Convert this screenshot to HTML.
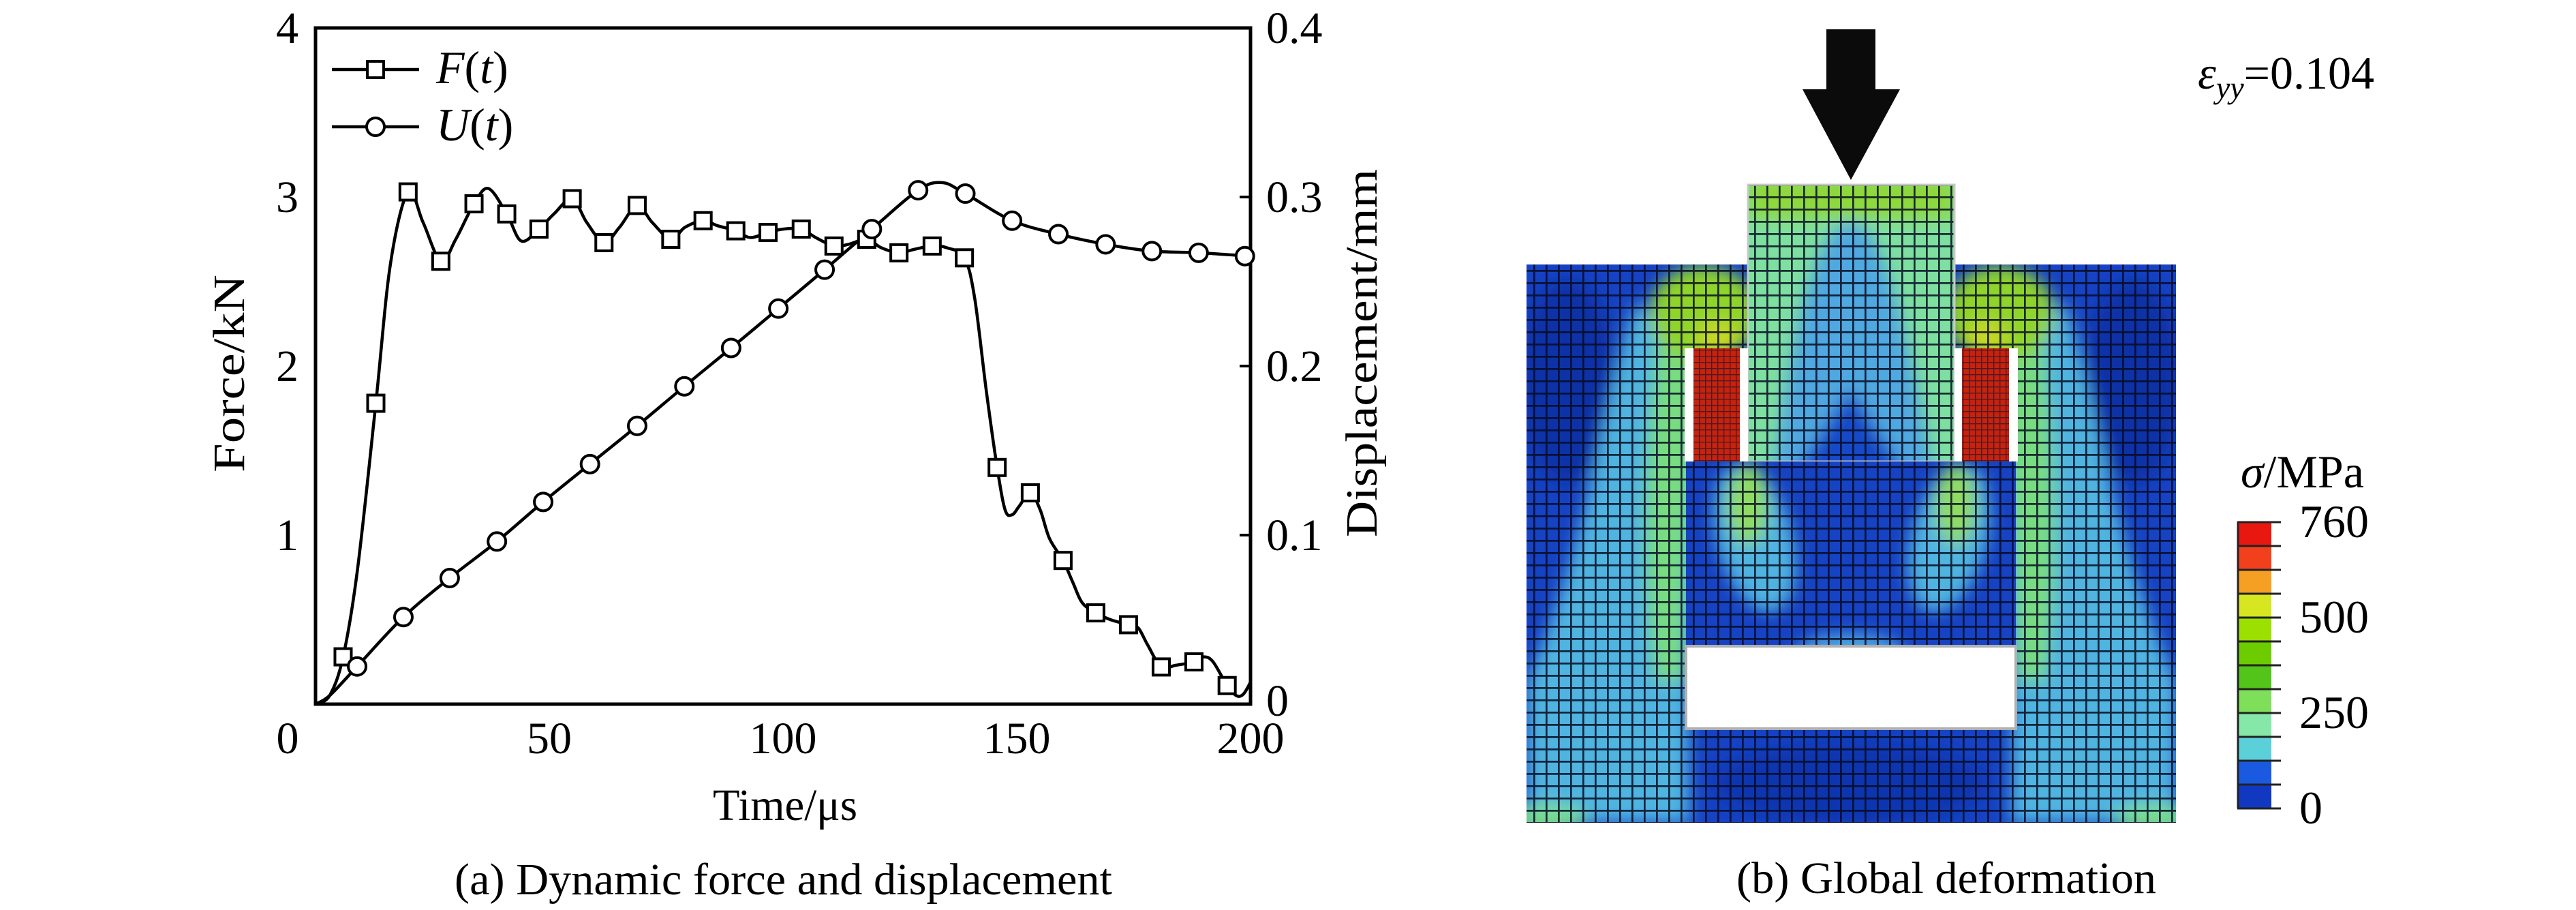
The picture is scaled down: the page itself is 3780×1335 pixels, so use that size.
<!DOCTYPE html>
<html><head><meta charset="utf-8"><style>
html,body{margin:0;padding:0;background:#fff;}
svg{display:block;}
text{font-family:"Liberation Serif",serif;fill:#000;}
</style></head><body>
<svg id="root" width="3780" height="1335" viewBox="0 0 3780 1335" xmlns="http://www.w3.org/2000/svg">
<defs>
  <pattern id="mesh" width="18" height="18" patternUnits="userSpaceOnUse">
    <path d="M0 1H18M1 0V18" stroke="#050a20" stroke-width="3.4" opacity="0.85"/>
  </pattern>
  <pattern id="meshfine" width="9" height="9" patternUnits="userSpaceOnUse">
    <path d="M0 0.5H9M0.5 0V9" stroke="#0a1430" stroke-width="1.8" opacity="0.65"/>
  </pattern>
  <filter id="blur" x="-20%" y="-20%" width="140%" height="140%"><feGaussianBlur stdDeviation="12"/></filter>
  <clipPath id="outerClip"><rect x="2240" y="388" width="953" height="819"/></clipPath>
  <clipPath id="blockClip"><rect x="2566" y="271" width="301" height="406"/></clipPath>
  <clipPath id="innerClip"><rect x="2474" y="677" width="484" height="271"/></clipPath>
</defs>

<!-- ============ LEFT CHART ============ -->
<g id="chart"></g>
<text x="1152" y="1203" font-size="66" text-anchor="middle" textLength="212" lengthAdjust="spacingAndGlyphs">Time/μs</text>
<text transform="translate(358,548) rotate(-90)" font-size="66" text-anchor="middle" textLength="290" lengthAdjust="spacingAndGlyphs">Force/kN</text>
<text transform="translate(2020,518) rotate(-90)" font-size="66" text-anchor="middle" textLength="540" lengthAdjust="spacingAndGlyphs">Displacement/mm</text>
<text x="667" y="1312" font-size="66" textLength="965" lengthAdjust="spacingAndGlyphs">(a) Dynamic force and displacement</text>

<!-- legend -->
<g>
  <g>
    <line x1="487" y1="102" x2="615" y2="102" stroke="#000" stroke-width="4.5"/>
    <rect x="539" y="90" width="24" height="24" fill="#fff" stroke="#000" stroke-width="4"/>
    <text x="640" y="122" font-size="68" font-style="italic">F<tspan font-style="normal">(</tspan>t<tspan font-style="normal">)</tspan></text>
  </g>
  <g>
    <line x1="487" y1="186" x2="615" y2="186" stroke="#000" stroke-width="4.5"/>
    <circle cx="551" cy="186" r="13" fill="#fff" stroke="#000" stroke-width="4"/>
    <text x="640" y="206" font-size="68" font-style="italic">U<tspan font-style="normal">(</tspan>t<tspan font-style="normal">)</tspan></text>
  </g>
</g>

<!-- ============ RIGHT PANEL (FE contour) ============ -->
<g>
  <polygon points="2680,43 2752,43 2752,131 2788,131 2716,264 2645,131 2680,131" fill="#0b0b0b"/>

  <g clip-path="url(#outerClip)">
    <rect x="2240" y="388" width="953" height="819" fill="#1642c4"/>
    <g filter="url(#blur)">
      <ellipse cx="2300" cy="560" rx="70" ry="150" fill="#0f30a8"/>
      <ellipse cx="3130" cy="560" rx="70" ry="150" fill="#0f30a8"/>
      <path d="M2400,440 C2350,600 2330,800 2240,1000 L2240,1207 L2480,1207 C2470,1000 2500,800 2520,600 Z" fill="#50b4e0"/>
      <path d="M2440,430 C2420,600 2400,800 2430,1000 L2470,1000 C2470,800 2490,600 2500,440 Z" fill="#78dc80"/>
      <path d="M3030,440 C3080,600 3100,800 3193,1000 L3193,1207 L2950,1207 C2960,1000 2930,800 2910,600 Z" fill="#50b4e0"/>
      <path d="M2990,430 C3010,600 3030,800 3000,1000 L2960,1000 C2960,800 2940,600 2930,440 Z" fill="#78dc80"/>
      <ellipse cx="2500" cy="460" rx="80" ry="70" fill="#8fd42a"/>
      <ellipse cx="2935" cy="460" rx="80" ry="70" fill="#8fd42a"/>
      <ellipse cx="2520" cy="495" rx="30" ry="25" fill="#c8d820"/>
      <ellipse cx="2915" cy="495" rx="30" ry="25" fill="#c8d820"/>
      <ellipse cx="2715" cy="1150" rx="200" ry="60" fill="#1034b0"/>
      <ellipse cx="2270" cy="1200" rx="60" ry="20" fill="#7ce08a"/>
      <ellipse cx="3160" cy="1200" rx="60" ry="20" fill="#7ce08a"/>
    </g>
    <rect x="2240" y="388" width="953" height="819" fill="url(#mesh)"/>
  </g>

  <g clip-path="url(#blockClip)">
    <rect x="2566" y="271" width="301" height="406" fill="#7ee0a0"/>
    <g filter="url(#blur)">
      <rect x="2566" y="260" width="301" height="60" fill="#8ed83a"/>
      <path d="M2600,700 C2630,500 2650,380 2700,330 C2760,300 2790,450 2840,700 Z" fill="#4fa8e0"/>
      <path d="M2630,700 L2715,570 L2800,700 Z" fill="#1848c8"/>
    </g>
    <rect x="2566" y="271" width="301" height="406" fill="url(#mesh)"/>
  </g>
  <rect x="2565" y="271" width="303" height="406" fill="none" stroke="#c8c8c8" stroke-width="3"/>

  <rect x="2472" y="511" width="13" height="166" fill="#fff"/>
  <rect x="2553" y="511" width="12" height="166" fill="#fff"/>
  <rect x="2868" y="511" width="11" height="166" fill="#fff"/>
  <rect x="2948" y="511" width="13" height="166" fill="#fff"/>
  <rect x="2485" y="511" width="68" height="166" fill="#c8220c"/>
  <rect x="2485" y="511" width="68" height="166" fill="url(#meshfine)"/>
  <rect x="2879" y="511" width="69" height="166" fill="#c8220c"/>
  <rect x="2879" y="511" width="69" height="166" fill="url(#meshfine)"/>

  <g clip-path="url(#innerClip)">
    <rect x="2474" y="677" width="484" height="271" fill="#1642c4"/>
    <g filter="url(#blur)">
      <ellipse cx="2575" cy="790" rx="55" ry="110" fill="#50b4e0" transform="rotate(-15 2575 790)"/>
      <ellipse cx="2565" cy="740" rx="30" ry="60" fill="#8fdc60"/>
      <ellipse cx="2860" cy="790" rx="55" ry="110" fill="#50b4e0" transform="rotate(15 2860 790)"/>
      <ellipse cx="2870" cy="740" rx="30" ry="60" fill="#8fdc60"/>
      <ellipse cx="2715" cy="960" rx="80" ry="30" fill="#4fa8e0"/>
    </g>
    <rect x="2474" y="677" width="484" height="271" fill="url(#mesh)"/>
  </g>

  <rect x="2474" y="948" width="484" height="121" fill="#fff" stroke="#b0b0b0" stroke-width="4"/>
</g>

<text x="3225" y="130" font-size="68"><tspan font-style="italic">ε</tspan><tspan font-style="italic" font-size="46" dy="14">yy</tspan><tspan dy="-14">=0.104</tspan></text>

<g id="cbar"></g>
<text x="3288" y="715" font-size="68"><tspan font-style="italic">σ</tspan>/MPa</text>

<text x="2548" y="1310" font-size="66" textLength="616" lengthAdjust="spacingAndGlyphs">(b) Global deformation</text>

<script>
const xTicks = [0, 50, 100, 150, 200];
const yTicksLeft = [1, 2, 3, 4];
const yTicksRight = [0, 0.1, 0.2, 0.3, 0.4];
const forceLineT = [0,3,5.9,9,12.9,16,19.8,23,26.8,30,33.9,37,40.9,44,47.8,51,54.9,58,61.7,65,68.8,72,76,79,82.9,86,89.9,93,96.8,100,103.9,107,110.9,114,117.9,121,124.8,128,131.9,135,138.8,141,143.5,145.8,147.5,149,150.5,152.9,155,157,159.9,162,164,166.9,170,173.9,176,178,180.9,184,187.9,190,192,195,197,198.5,200];
const forceLineF = [0,0.05,0.28,0.8,1.78,2.6,3.03,2.85,2.62,2.75,2.96,3.05,2.90,2.74,2.81,2.9,2.99,2.85,2.73,2.82,2.95,2.85,2.75,2.82,2.86,2.83,2.80,2.76,2.79,2.81,2.81,2.76,2.71,2.72,2.75,2.70,2.67,2.69,2.71,2.70,2.64,2.4,1.85,1.40,1.15,1.12,1.17,1.25,1.15,0.98,0.85,0.72,0.6,0.54,0.50,0.47,0.45,0.35,0.22,0.23,0.25,0.28,0.25,0.11,0.05,0.06,0.13];
const forceMarkT = [5.9,12.9,19.8,26.8,33.9,40.9,47.8,54.9,61.7,68.8,76.0,82.9,89.9,96.8,103.9,110.9,117.9,124.8,131.9,138.8,145.8,152.9,159.9,166.9,173.9,180.9,187.9,195.0];
const forceMarkF = [0.28,1.78,3.03,2.62,2.96,2.90,2.81,2.99,2.73,2.95,2.75,2.86,2.80,2.79,2.81,2.71,2.75,2.67,2.71,2.64,1.40,1.25,0.85,0.54,0.47,0.22,0.25,0.11];
const dispLineT = [0,3,8.9,18.8,28.7,38.8,48.7,58.7,68.8,78.9,88.9,99.0,108.9,119.0,128.9,134,139.0,149.0,158.9,169.0,178.9,188.9,200];
const dispLineU = [0,0.005,0.0223,0.0515,0.0746,0.0962,0.1196,0.142,0.1646,0.188,0.2107,0.234,0.257,0.281,0.304,0.3085,0.302,0.286,0.278,0.272,0.268,0.267,0.265];
const dispMarkT = [8.9,18.8,28.7,38.8,48.7,58.7,68.8,78.9,88.9,99.0,108.9,119.0,128.9,139.0,149.0,158.9,169.0,178.9,188.9,198.8];
const dispMarkU = [0.0223,0.0515,0.0746,0.0962,0.1196,0.142,0.1646,0.188,0.2107,0.234,0.257,0.281,0.304,0.302,0.286,0.278,0.272,0.268,0.267,0.265];
const cbarColors = ["#e8170f","#f2401c","#f5a023","#d6e620","#9be000","#6ccc00","#52c41a","#7ee05a","#86e8a8","#5cd0d8","#1a5ae0","#1038c0"];
const cbarLabels = ["760","500","250","0"];
const cbarLabelPos = [0, 4, 8, 12];

const NS = "http://www.w3.org/2000/svg";
const X0 = 463, X1 = 1835, Y0 = 1033, Y1 = 41;
const sx = t => X0 + (t / 200) * (X1 - X0);
const sF = f => Y0 - (f / 4) * (Y0 - Y1);
const sU = u => Y0 - (u / 0.4) * (Y0 - Y1);
function mk(tag, attrs, parent) { const e = document.createElementNS(NS, tag); for (const k in attrs) e.setAttribute(k, attrs[k]); parent.appendChild(e); return e; }
function smoothPath(pts) {
  let d = "M" + pts[0][0].toFixed(1) + "," + pts[0][1].toFixed(1);
  for (let i = 0; i < pts.length - 1; i++) {
    const p0 = pts[Math.max(0, i - 1)], p1 = pts[i], p2 = pts[i + 1], p3 = pts[Math.min(pts.length - 1, i + 2)];
    const c1x = p1[0] + (p2[0] - p0[0]) / 6, c1y = p1[1] + (p2[1] - p0[1]) / 6;
    const c2x = p2[0] - (p3[0] - p1[0]) / 6, c2y = p2[1] - (p3[1] - p1[1]) / 6;
    d += " C" + c1x.toFixed(1) + "," + c1y.toFixed(1) + " " + c2x.toFixed(1) + "," + c2y.toFixed(1) + " " + p2[0].toFixed(1) + "," + p2[1].toFixed(1);
  }
  return d;
}
const g = document.getElementById("chart");
const box = mk("rect", {x: X0, y: Y1, width: X1 - X0, height: Y0 - Y1, fill: "none", stroke: "#000", "stroke-width": 5}, g);


xTicks.forEach(v => {
  const tx = mk("text", {x: v === 0 ? sx(v) - 41 : sx(v), y: 1105, "font-size": 66, "text-anchor": "middle"}, g);
  tx.textContent = v;
  
  
});
yTicksLeft.forEach(v => {
  const tx = mk("text", {x: 438, y: sF(v) + 22, "font-size": 66, "text-anchor": "end"}, g);
  tx.textContent = v;
  
  
});
yTicksRight.forEach(v => {
  const tx = mk("text", {x: 1858, y: sU(v) + (v === 0 ? 17 : 22), "font-size": 66}, g);
  tx.textContent = v;
  
  
  if (v > 0 && v < 0.4) {
    const tk = mk("line", {x1: X1, x2: X1 - 16, y1: sU(v), y2: sU(v), stroke: "#000", "stroke-width": 4}, g);
    
    
  }
});
const fPts = forceLineT.map((t, i) => [sx(t), sF(forceLineF[i])]);
const fl = mk("path", {d: smoothPath(fPts), fill: "none", stroke: "#000", "stroke-width": 4.5}, g);


const uPts = dispLineT.map((t, i) => [sx(t), sU(dispLineU[i])]);
const ul = mk("path", {d: smoothPath(uPts), fill: "none", stroke: "#000", "stroke-width": 4.5}, g);


forceMarkT.forEach((t, i) => {
  const r = mk("rect", {x: sx(t) - 12, y: sF(forceMarkF[i]) - 12, width: 24, height: 24, fill: "#fff", stroke: "#000", "stroke-width": 4}, g);
  
  
});
dispMarkT.forEach((t, i) => {
  const c = mk("circle", {cx: sx(t), cy: sU(dispMarkU[i]), r: 13, fill: "#fff", stroke: "#000", "stroke-width": 4}, g);
  
  
});
const cb = document.getElementById("cbar");
const CB_X = 3283, CB_W = 50, CB_Y0 = 766, CB_Y1 = 1186;
const bh = (CB_Y1 - CB_Y0) / cbarColors.length;
cbarColors.forEach((c, i) => {
  const r = mk("rect", {x: CB_X, y: CB_Y0 + i * bh, width: CB_W, height: bh + 0.5, fill: c}, cb);
  
  
});
for (let i = 0; i <= cbarColors.length; i++) {
  mk("line", {x1: CB_X, x2: CB_X + CB_W + 14, y1: CB_Y0 + i * bh, y2: CB_Y0 + i * bh, stroke: "#222", "stroke-width": 3}, cb);
}
mk("line", {x1: CB_X + 1, x2: CB_X + 1, y1: CB_Y0, y2: CB_Y1, stroke: "#222", "stroke-width": 3}, cb);
cbarLabels.forEach((l, i) => {
  const t = mk("text", {x: 3374, y: CB_Y0 + cbarLabelPos[i] * bh + 22, "font-size": 68}, cb);
  t.textContent = l;
  
  
});
</script>
</svg>
</body></html>
